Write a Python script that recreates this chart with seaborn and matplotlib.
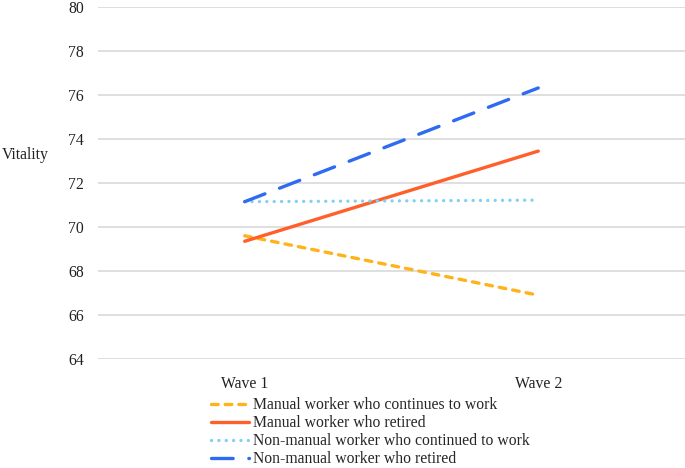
import pandas as pd
import matplotlib.pyplot as plt
import seaborn as sns

# Данные с графика
waves = ['Wave 1', 'Wave 2']
groups = ['Manual worker who continues to work',
          'Manual worker who retired',
          'Non-manual worker who continued to work',
          'Non-manual worker who retired']
manual_work = [69.6, 66.9]
manual_retired = [69.35, 73.45]
nonmanual_work = [71.15, 71.22]
nonmanual_retired = [71.15, 76.32]

colors = ['#FFB31A', '#FF5F2A', '#80D0F5', '#2E6AF2']

df = pd.DataFrame({
    'wave': waves * 4,
    'group': [g for g in groups for _ in waves],
    'vitality': manual_work + manual_retired + nonmanual_work + nonmanual_retired,
})

sns.set_style('white')
plt.rcParams['font.family'] = ['Liberation Serif', 'DejaVu Serif']

fig = plt.figure(figsize=(6.85, 4.68), dpi=100)
ax = fig.add_axes([0.143, 0.233, 0.857, 0.752])

sns.lineplot(data=df, x='wave', y='vitality', hue='group', hue_order=groups,
             palette=dict(zip(groups, colors)), ax=ax, linewidth=2.4, sort=False)
ax.get_legend().remove()

# Стили линий
styles = [(0, (2.0, 2.1)), '-', (0, (0.01, 2.2)), (0, (6.5, 4.7))]
for line, ls in zip(ax.lines, styles):
    line.set_linestyle(ls)
    line.set_dash_capstyle('round')
    line.set_solid_capstyle('round')

ax.set_xlim(-0.5, 1.5)
ax.set_ylim(64, 80)
ax.set_yticks(range(64, 81, 2))
ax.yaxis.grid(True, color='#D9D9D9', linewidth=1.2)
ax.set_axisbelow(True)
sns.despine(ax=ax, left=True, bottom=True)
ax.tick_params(axis='both', length=0, labelsize=11.3, colors='#222222')
ax.tick_params(axis='x', pad=12)
ax.tick_params(axis='y', pad=10)
ax.set_xlabel('')
ax.set_ylabel('')
fig.text(0.003, 0.669, 'Vitality', fontsize=11.3, va='center', ha='left', color='#222222')

fig.legend(ax.lines, groups, loc='upper left', bbox_to_anchor=(0.308, 0.151),
           frameon=False, fontsize=11.3, handlelength=2.4, handletextpad=0.3,
           labelspacing=0.13, borderpad=0, borderaxespad=0)

plt.savefig('out.png', dpi=100)
